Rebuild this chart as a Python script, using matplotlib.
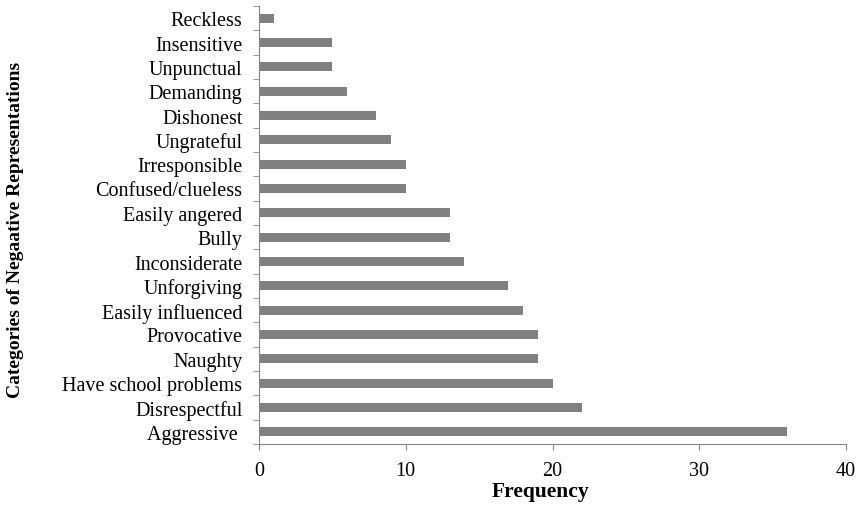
import matplotlib.pyplot as plt
import numpy as np

categories = ['Aggressive ', 'Disrespectful', 'Have school problems', 'Naughty',
              'Provocative', 'Easily influenced', 'Unforgiving', 'Inconsiderate',
              'Bully', 'Easily angered', 'Confused/clueless', 'Irresponsible',
              'Ungrateful', 'Dishonest', 'Demanding', 'Unpunctual', 'Insensitive',
              'Reckless']
frequency = [36, 22, 20, 19, 19, 18, 17, 14, 13, 13, 10, 10, 9, 8, 6, 5, 5, 1]
x_ticks = [0, 10, 20, 30, 40]

plt.rcParams['font.family'] = ['Liberation Serif', 'DejaVu Serif']

fig = plt.figure(figsize=(8.61, 5.06), dpi=100)
ax = fig.add_axes([259 / 861, 1 - 445 / 506, 587 / 861, 438 / 506])

y = np.arange(len(categories))
ax.barh(y, frequency, height=0.36, color='#808080')

ax.set_xlim(0, 40)
ax.set_ylim(-0.5, len(categories) - 0.5)
ax.set_xticks(x_ticks)
ax.set_xticklabels([str(t) for t in x_ticks], fontsize=14.5)
ax.set_yticks(y)
ax.set_yticklabels(categories, fontsize=14.5)
ax.set_yticks(np.arange(len(categories) + 1) - 0.5, minor=True)
ax.tick_params(axis='y', which='major', length=0, pad=12)
ax.tick_params(axis='y', which='minor', length=4, color='#868686')
ax.tick_params(axis='x', length=4, color='#868686', pad=8)

for s in ['top', 'right']:
    ax.spines[s].set_visible(False)
for s in ['left', 'bottom']:
    ax.spines[s].set_color('#868686')

ax.set_xlabel('Frequency', fontsize=15.5, fontweight='bold')
ax.xaxis.set_label_coords(0.479, -0.085)
ax.set_ylabel('Categories of Negaative Representations', fontsize=14,
              fontweight='bold')
ax.yaxis.set_label_coords(-0.4, 0.49)

fig.savefig('out.png', dpi=100)
